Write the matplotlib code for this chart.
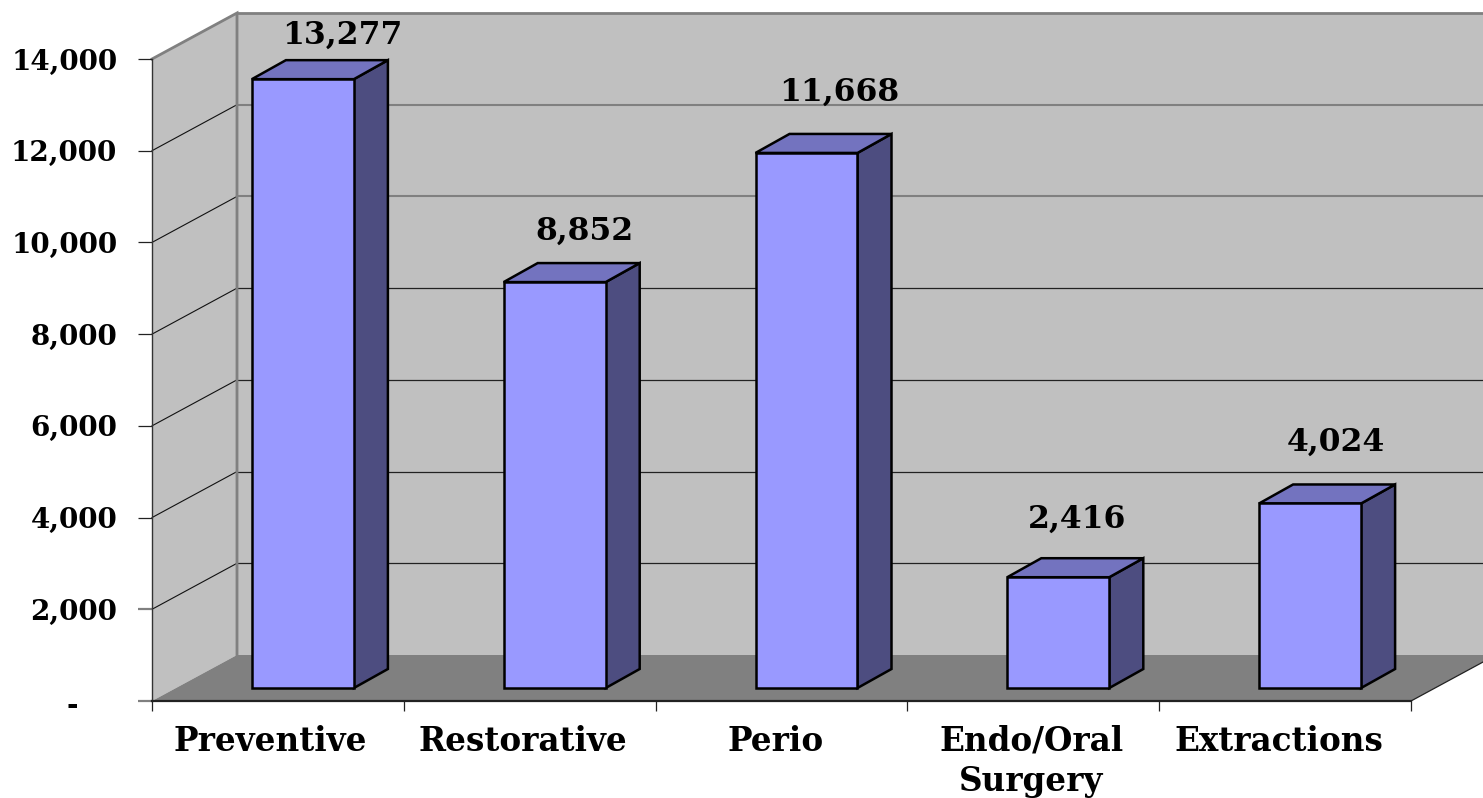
import matplotlib
matplotlib.use("Agg")
import matplotlib.pyplot as plt
from matplotlib.patches import Polygon
from matplotlib.ticker import FuncFormatter

categories = ["Preventive", "Restorative", "Perio", "Endo/Oral\nSurgery", "Extractions"]
values = [13277, 8852, 11668, 2416, 4024]
y_ticks = [0, 2000, 4000, 6000, 8000, 10000, 12000, 14000]

W, H = 1483, 798
LEFT, RIGHT, BOTTOM, TOP = 152, 1411, 701, 59
FONT = "DejaVu Serif"
FS_TICK = 20
FS_VALUE = 22.6
FS_CAT = 23.5

fig = plt.figure(figsize=(W / 100, H / 100), dpi=100, facecolor="white")
ax = fig.add_axes([LEFT / W, 1 - BOTTOM / H, (RIGHT - LEFT) / W, (BOTTOM - TOP) / H])
ax.set_xlim(0, len(categories))
ax.set_ylim(0, 14000)
ax.patch.set_visible(False)

ux = (RIGHT - LEFT) / len(categories)   # px per category
uy = (BOTTOM - TOP) / 14000             # px per value
px = lambda p: p / ux
py = lambda p: p / uy

# chart depth
DX, DY = px(85), py(46)
xmax = len(categories)


def poly(pts, fc, ec="none", lw=0.0, z=1.0):
    ax.add_patch(Polygon(pts, closed=True, facecolor=fc, edgecolor=ec, linewidth=lw,
                         zorder=z, clip_on=False, joinstyle="miter"))


# walls and floor
poly([(DX, DY), (xmax + DX, DY), (xmax + DX, 14000 + DY), (DX, 14000 + DY)], "#C0C0C0", z=1)
poly([(0, 0), (DX, DY), (DX, 14000 + DY), (0, 14000)], "#C0C0C0", z=1)
poly([(0, 0), (xmax, 0), (xmax + DX, DY), (DX, DY)], "#808080", z=1.1)

# gridlines
for t in y_ticks[1:-1]:
    grey = t >= 10000
    ax.plot([DX, xmax + DX], [t + DY, t + DY], color="#808080" if grey else "#222222",
            lw=1.5 if grey else 0.9, zorder=1.2, clip_on=False)
    ax.plot([0, DX], [t, t + DY], color="#111111", lw=0.8, zorder=1.2, clip_on=False)

# wall borders
ax.plot([0, DX, DX], [14000, 14000 + DY, DY], color="#808080", lw=2.0, zorder=1.3,
        clip_on=False, solid_joinstyle="miter")
ax.plot([DX, xmax + DX], [14000 + DY, 14000 + DY], color="#808080", lw=2.0, zorder=1.3,
        clip_on=False)
ax.plot([xmax, xmax + DX], [0, DY], color="#222222", lw=0.9, zorder=1.3, clip_on=False)

# bars
BAR_W = px(102)
BAR_DX, BAR_DY = px(34), py(19)
BASE_DX, BASE_DY = px(25), py(13)
FRONT, TOPC, SIDE = "#9999FF", "#7373BF", "#4D4D80"
EDGE_LW = 1.8
label_nudges = [(39, 44), (30, 51), (33, 61), (19, 58), (26, 61)]

for i, v in enumerate(values):
    x0 = i + 0.5 + BASE_DX - BAR_W / 2
    x1 = x0 + BAR_W
    b = BASE_DY
    t = b + v
    z = 3 + i * 0.1
    poly([(x1, b), (x1 + BAR_DX, b + BAR_DY), (x1 + BAR_DX, t + BAR_DY), (x1, t)], SIDE, "black", EDGE_LW, z)
    poly([(x0, t), (x1, t), (x1 + BAR_DX, t + BAR_DY), (x0 + BAR_DX, t + BAR_DY)], TOPC, "black", EDGE_LW, z)
    poly([(x0, b), (x1, b), (x1, t), (x0, t)], FRONT, "black", EDGE_LW, z)
    nx, ny = label_nudges[i]
    ax.text((x0 + x1) / 2 + px(nx), t + py(ny), f"{v:,}", ha="center", va="center",
            fontfamily=FONT, fontweight="bold", fontsize=FS_VALUE, color="black", zorder=6, clip_on=False)

# axes furniture
for s in ("top", "right"):
    ax.spines[s].set_visible(False)
ax.spines["left"].set_color("#333333")
ax.spines["left"].set_linewidth(1.0)
ax.spines["bottom"].set_color("#222222")
ax.spines["bottom"].set_linewidth(1.6)
ax.spines["left"].set_zorder(2)
ax.spines["bottom"].set_zorder(2)

ax.set_yticks(y_ticks)
ax.yaxis.set_major_formatter(FuncFormatter(lambda v, _: "-" if v == 0 else f"{v:,.0f}"))
ax.tick_params(axis="y", length=10, width=0.9, color="#222222", pad=15)
for lab in ax.get_yticklabels():
    lab.set_fontfamily(FONT)
    lab.set_fontweight("bold")
    lab.set_fontsize(FS_TICK)
# the zero label is the accounting-format dash, set in from the right edge of the other labels
fig.canvas.draw()
yt = ax.yaxis.get_major_ticks()
yt[0].label1.set_transform(yt[0].label1.get_transform() + matplotlib.transforms.ScaledTranslation(-39 / 100, -2 / 100, fig.dpi_scale_trans))
for k in (0, 1):
    yt[k].tick1line.set_color("#808080")
    yt[k].tick1line.set_markeredgecolor("#808080")
    yt[k].tick1line.set_markeredgewidth(1.6)

ax.set_xticks(range(len(categories) + 1))
ax.tick_params(axis="x", which="major", length=7.5, width=0.9, color="#222222", labelbottom=False)
label_pos = [0.468, 1.472, 2.476, 3.492, 4.476]
ax.set_xticks(label_pos, minor=True)
ax.set_xticklabels(categories, minor=True, fontfamily=FONT, fontweight="bold", fontsize=FS_CAT,
                   linespacing=1.29)
ax.tick_params(axis="x", which="minor", length=0, pad=17)

fig.savefig("out.png", dpi=100, facecolor="white")
